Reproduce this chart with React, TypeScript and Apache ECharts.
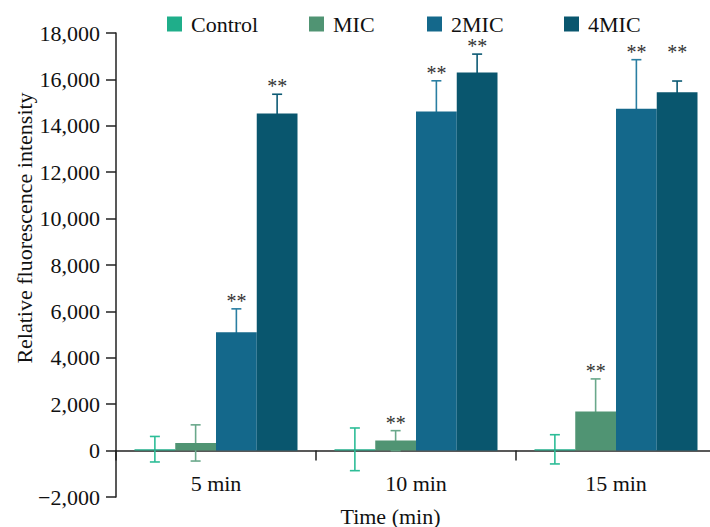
import React, { useEffect, useRef } from "react";
import * as echarts from "echarts";

const categories = ["5 min", "10 min", "15 min"];
const seriesNames = ["Control", "MIC", "2MIC", "4MIC"];
const controlMean = [60, 55, 55];
const controlErr = [550, 920, 630];
const micMean = [330, 430, 1680];
const micErr = [780, 430, 1410];
const mic2Mean = [5100, 14620, 14730];
const mic2Err = [1010, 1320, 2120];
const mic4Mean = [14530, 16300, 15450];
const mic4Err = [830, 790, 480];
// level (data units) where "**" significance marks sit; null = none
const controlStar: (number | null)[] = [null, null, null];
const micStar: (number | null)[] = [null, 860, 3090];
const mic2Star: (number | null)[] = [6110, 15940, 16850];
const mic4Star: (number | null)[] = [15360, 17090, 16850];

const yTicks = { min: -2000, max: 18000, interval: 2000 };

const barColors = ["#1fae8a", "#509473", "#14688b", "#09566e"];
const errColors = ["#2dbd97", "#6aa88b", "#2a7ea2", "#0c5a74"];
const FONT = '"Liberation Serif", "Times New Roman", serif';
const CAT_GAP = 0.185;

export default function App() {
  const ref = useRef<HTMLDivElement>(null);
  useEffect(() => {
    if (!ref.current) return;
    const chart = echarts.init(ref.current, undefined, { renderer: "svg" });
    const means = [controlMean, micMean, mic2Mean, mic4Mean];
    const errs = [controlErr, micErr, mic2Err, mic4Err];
    const stars = [controlStar, micStar, mic2Star, mic4Star];

    const errData: any[] = [];
    means.forEach((m, s) => {
      m.forEach((v, i) => {
        errData.push([i, v, errs[s][i], s, stars[s][i] == null ? NaN : stars[s][i]]);
      });
    });

    const legendLefts = [167, 309, 427, 564];

    const option: any = {
      animation: false,
      grid: {
        left: 116,
        right: -6,
        top: 33,
        bottom: 30,
        containLabel: false,
        outerBoundsMode: "none",
      },
      legend: seriesNames.map((n, i) => ({
        data: [n],
        left: legendLefts[i],
        top: 13,
        padding: 0,
        itemWidth: 15,
        itemHeight: 15,
        icon: "rect",
        selectedMode: false,
        textStyle: {
          fontFamily: FONT,
          fontSize: 22,
          color: "#111",
          padding: [0, 0, 0, 4],
        },
      })),
      xAxis: {
        type: "category",
        data: categories,
        axisLine: { onZero: true, lineStyle: { color: "#222", width: 1.5 } },
        axisTick: { show: true, length: 10, inside: false, lineStyle: { color: "#222", width: 1.5 } },
        axisLabel: { fontFamily: FONT, fontSize: 22, color: "#111", margin: -25 },
      },
      yAxis: {
        type: "value",
        min: yTicks.min,
        max: yTicks.max,
        interval: yTicks.interval,
        splitLine: { show: false },
        axisLine: { show: true, lineStyle: { color: "#222", width: 1.5 } },
        axisTick: { show: true, length: 10, lineStyle: { color: "#222", width: 1.5 } },
        axisLabel: {
          fontFamily: FONT,
          fontSize: 22,
          color: "#111",
          margin: 16,
          formatter: (v: number) =>
            (v < 0 ? "\u2212" : "") + Math.abs(v).toLocaleString("en-US"),
        },
      },
      graphic: [
        {
          type: "text",
          x: 24,
          y: 228,
          rotation: Math.PI / 2,
          style: {
            text: "Relative fluorescence intensity",
            fontFamily: FONT,
            fontSize: 22,
            fill: "#111",
            align: "center",
            verticalAlign: "middle",
          },
        },
        {
          type: "text",
          x: 390.5,
          y: 516,
          style: {
            text: "Time (min)",
            fontFamily: FONT,
            fontSize: 22,
            fill: "#111",
            align: "center",
            verticalAlign: "middle",
          },
        },
      ],
      series: [
        ...seriesNames.map((n, s) => ({
          name: n,
          type: "bar",
          data: means[s],
          barGap: "0%",
          barCategoryGap: CAT_GAP * 100 + "%",
          z: 3,
          itemStyle: { color: barColors[s] },
        })),
        {
          type: "custom",
          name: "err",
          z: 2,
          data: errData,
          encode: { x: 0, y: 1 },
          renderItem: (params: any, api: any) => {
            const cat = api.value(0);
            const mean = api.value(1);
            const err = api.value(2);
            const s = api.value(3);
            const star = api.value(4);
            const bw = (api.size([1, 0])[0] * (1 - CAT_GAP)) / 4;
            const c = api.coord([cat, mean]);
            const x = c[0] + (s - 1.5) * bw;
            const yTop = api.coord([cat, mean + err])[1];
            const yBot = api.coord([cat, mean - err])[1];
            const cap = 5;
            const col = errColors[s];
            const lw = 1.6;
            const children: any[] = [
              { type: "line", shape: { x1: x, y1: yTop, x2: x, y2: yBot }, style: { stroke: col, lineWidth: lw } },
              { type: "line", shape: { x1: x - cap, y1: yTop, x2: x + cap, y2: yTop }, style: { stroke: col, lineWidth: lw } },
              { type: "line", shape: { x1: x - cap, y1: yBot, x2: x + cap, y2: yBot }, style: { stroke: col, lineWidth: lw } },
            ];
            if (!isNaN(star)) {
              const ys = api.coord([cat, star])[1];
              children.push({
                type: "text",
                z2: 10,
                style: {
                  x: x,
                  y: ys - 8,
                  text: "**",
                  fontFamily: FONT,
                  fontSize: 20,
                  fill: "#333",
                  align: "center",
                  verticalAlign: "middle",
                },
              });
            }
            return { type: "group", children };
          },
        },
      ],
    };
    chart.setOption(option);
    return () => chart.dispose();
  }, []);
  return (
    <div
      ref={ref}
      style={{ position: "fixed", left: 0, top: 0, width: 710, height: 527, background: "#fff" }}
    />
  );
}
